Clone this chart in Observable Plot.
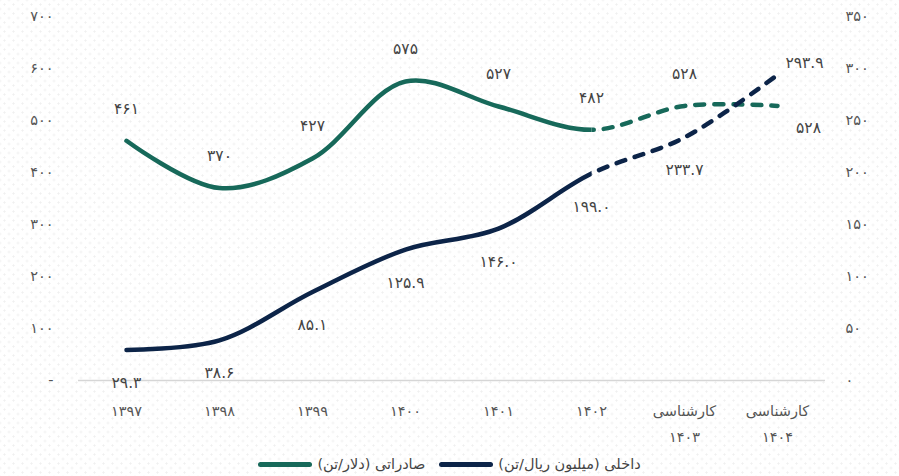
<!DOCTYPE html>
<html>
<head>
<meta charset="utf-8">
<script src="https://cdn.jsdelivr.net/npm/d3@7"></script>
<script src="https://cdn.jsdelivr.net/npm/@observablehq/plot@0.6"></script>
<style>
  html, body { margin: 0; padding: 0; background: #fff; }
  body {
    width: 899px; height: 476px; overflow: hidden;
    font-family: "DejaVu Sans", "Noto Sans", sans-serif;
    background-image:
      radial-gradient(circle, #f0f0f0 0.9px, transparent 1.2px),
      radial-gradient(circle, #f0f0f0 0.9px, transparent 1.2px);
    background-size: 9px 9px, 9px 9px;
    background-position: 0 0, 4.5px 4.5px;
  }
  #chart svg { display: block; background: transparent; }
  #legend {
    height: 28px; display: flex; justify-content: center; align-items: center;
    direction: rtl; gap: 14px; font-size: 14.5px; color: #444;
    margin-top: 2px;
  }
  .item { display: flex; align-items: center; gap: 5px; }
  .sw { width: 54px; height: 5px; border-radius: 3px; }
</style>
</head>
<body>
<div id="chart"></div>
<div id="legend"></div>
<script>
// ---- data ----
const years = ["1397", "1398", "1399", "1400", "1401", "1402", "1403", "1404"];
const yearLabels = ["۱۳۹۷", "۱۳۹۸", "۱۳۹۹", "۱۴۰۰", "۱۴۰۱", "۱۴۰۲", "کارشناسی\n۱۴۰۳", "کارشناسی\n۱۴۰۴"];
const exportPrice = [461, 370, 427, 575, 527, 482, 528, 528];          // دلار/تن
const domesticPrice = [29.3, 38.6, 85.1, 125.9, 146.0, 199.0, 233.7, 293.9]; // میلیون ریال/تن
const leftTicks = [0, 100, 200, 300, 400, 500, 600, 700];
const seriesNames = ["صادراتی (دلار/تن)", "داخلی (میلیون ریال/تن)"];
const forecastStart = "1402";

const green = "#17695a";
const navy = "#0c2448";
const ratio = 2; // right axis (0-350) mapped to left axis (0-700)

const fa = s => String(s).replace(/\d/g, d => "۰۱۲۳۴۵۶۷۸۹"[d]);
const rows = years.map((y, i) => ({year: y, label: yearLabels[i], exp: exportPrice[i], dom: domesticPrice[i], last: i === years.length - 1}));
const labelOf = Object.fromEntries(rows.map(r => [r.year, r.label]));

const tickFont = 14.5;
const labelFont = 15.5;

const chart = Plot.plot({
  width: 899,
  height: 448,
  marginLeft: 78,
  marginRight: 74,
  marginTop: 16,
  marginBottom: 68,
  style: {fontFamily: "'DejaVu Sans', 'Noto Sans', sans-serif", background: "transparent"},
  x: {type: "point", domain: years, padding: 0.5},
  y: {domain: [0, 700]},
  marks: [
    Plot.ruleY([0], {stroke: "#d6d6d6", strokeWidth: 1.5}),
    Plot.axisX({anchor: "bottom", tickSize: 0, tickPadding: 16, tickFormat: d => labelOf[d], lineAnchor: "top", lineHeight: 1.85, fontSize: tickFont, color: "#555", label: null}),
    Plot.axisY({anchor: "left", ticks: leftTicks, tickSize: 0, tickPadding: 25, tickFormat: d => d === 0 ? "-" : fa(d), fontSize: tickFont, color: "#555", label: null}),
    Plot.axisY({anchor: "right", ticks: leftTicks, tickSize: 0, tickPadding: 20, tickFormat: d => fa(d / ratio), fontSize: tickFont, color: "#555", label: null}),
    // export line (solid + dashed copies, clipped later)
    Plot.line(rows, {x: "year", y: "exp", curve: "catmull-rom", stroke: green, strokeWidth: 4.5, strokeLinecap: "round"}),
    Plot.line(rows, {x: "year", y: "exp", curve: "catmull-rom", stroke: green, strokeWidth: 4.5, strokeLinecap: "round", strokeDasharray: "9,10"}),
    // domestic line
    Plot.line(rows, {x: "year", y: d => d.dom * ratio, curve: "catmull-rom", stroke: navy, strokeWidth: 4.5, strokeLinecap: "round"}),
    Plot.line(rows, {x: "year", y: d => d.dom * ratio, curve: "catmull-rom", stroke: navy, strokeWidth: 4.5, strokeLinecap: "round", strokeDasharray: "9,10"}),
    // labels
    Plot.text(rows.filter(d => !d.last), {x: "year", y: "exp", text: d => fa(d.exp), dy: -32, fontSize: labelFont, fill: "#444"}),
    Plot.text(rows.filter(d => d.last), {x: "year", y: "exp", text: d => fa(d.exp), dx: 31, dy: 22, fontSize: labelFont, fill: "#444"}),
    Plot.text(rows.filter(d => !d.last), {x: "year", y: d => d.dom * ratio, text: d => fa(d.dom.toFixed(1)), dy: 33, fontSize: labelFont, fill: "#444"}),
    Plot.text(rows.filter(d => d.last), {x: "year", y: d => d.dom * ratio, text: d => fa(d.dom.toFixed(1)), dx: 27, dy: -12, fontSize: labelFont, fill: "#444"})
  ]
});

// clip solid part up to forecast start and dashed part after it
const xs = chart.scale("x");
const bx = xs.apply ? xs.apply(forecastStart) : d3.scalePoint(xs.domain, xs.range).padding(0.5)(forecastStart);
const ns = "http://www.w3.org/2000/svg";
const defs = document.createElementNS(ns, "defs");
function clip(id, x0, x1) {
  const cp = document.createElementNS(ns, "clipPath");
  cp.setAttribute("id", id);
  const r = document.createElementNS(ns, "rect");
  r.setAttribute("x", x0); r.setAttribute("y", 0);
  r.setAttribute("width", x1 - x0); r.setAttribute("height", 448);
  cp.appendChild(r); defs.appendChild(cp);
}
clip("clipSolid", 0, bx);
clip("clipDash", bx, 899);
chart.insertBefore(defs, chart.firstChild);
const lines = chart.querySelectorAll('g[aria-label="line"]');
lines.forEach((g, i) => g.setAttribute("clip-path", i % 2 === 0 ? "url(#clipSolid)" : "url(#clipDash)"));

document.getElementById("chart").appendChild(chart);

// legend (RTL): domestic first (rightmost), then export
const legend = document.getElementById("legend");
[[seriesNames[1], navy], [seriesNames[0], green]].forEach(([name, color]) => {
  const it = document.createElement("div");
  it.className = "item";
  const t = document.createElement("span");
  t.textContent = name;
  const sw = document.createElement("span");
  sw.className = "sw";
  sw.style.background = color;
  it.appendChild(t); it.appendChild(sw);
  legend.appendChild(it);
});
</script>
</body>
</html>
